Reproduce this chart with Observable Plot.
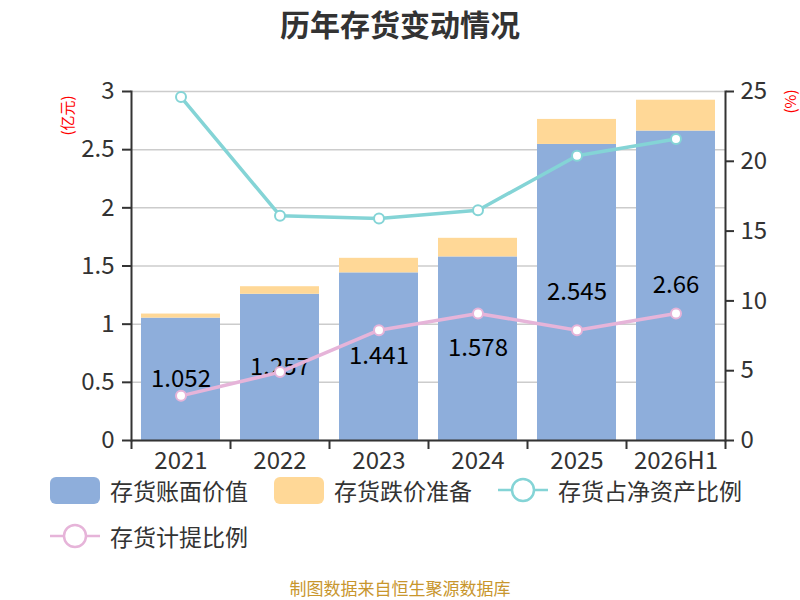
<!DOCTYPE html>
<html><head><meta charset="utf-8">
<script src="https://cdn.jsdelivr.net/npm/d3@7"></script>
<script src="https://cdn.jsdelivr.net/npm/@observablehq/plot@0.6"></script>
<style>
body{margin:0;background:#fff;font-family:"Noto Sans CJK SC","Noto Sans",sans-serif;}
#wrap{position:relative;width:800px;height:600px;overflow:hidden;background:#fff;}
#title{height:46px;line-height:46px;text-align:center;font-size:30px;font-weight:bold;color:#333;}
#legend{position:absolute;top:476px;left:50px;width:720px;display:flex;flex-wrap:wrap;row-gap:18px;}
.item{display:flex;align-items:center;height:28px;margin-right:26px;font-size:23px;line-height:28px;color:#333;}
.sw{width:50px;height:27px;border-radius:6px;margin-right:10px;}
.item svg{margin-right:10px;}
#caption{position:absolute;top:576px;left:0;width:800px;text-align:center;line-height:24px;font-size:17px;color:#c8962d;}
</style></head>
<body>
<div id="wrap">
<div id="title">历年存货变动情况</div>
<div id="chart"></div>
<div id="legend"></div>
<div id="caption">制图数据来自恒生聚源数据库</div>
</div>
<script>
const categories = ["2021","2022","2023","2024","2025","2026H1"];
const bookValue = [1.052,1.257,1.441,1.578,2.545,2.66];
const provision = [0.035,0.065,0.125,0.16,0.215,0.265];
const netAssetRatio = [24.6,16.1,15.9,16.5,20.4,21.6];
const provisionRatio = [3.2,4.9,7.9,9.1,7.9,9.1];
const leftTicks = [0,0.5,1,1.5,2,2.5,3];
const rightTicks = [0,5,10,15,20,25];
const seriesNames = ["存货账面价值","存货跌价准备","存货占净资产比例","存货计提比例"];
const seriesColors = ["#8eaedb","#ffd897","#84d4d6","#e6b4d9"];

const W = 800, H = 432, mL = 131, mR = 75, mT = 45, mB = 38;
const step = (W - mL - mR) / categories.length;
const k = 3 / 25; // right axis (%) to left axis (亿元)

const barRows = [];
categories.forEach((c,i)=>{
  barRows.push({cat:c, series:seriesNames[0], value:bookValue[i]});
  barRows.push({cat:c, series:seriesNames[1], value:provision[i]});
});
const bookRows = categories.map((c,i)=>({cat:c, value:bookValue[i]}));
const lineA = categories.map((c,i)=>({cat:c, v:netAssetRatio[i]}));
const lineB = categories.map((c,i)=>({cat:c, v:provisionRatio[i]}));

const chart = Plot.plot({
  width: W, height: H,
  marginLeft: mL, marginRight: mR, marginTop: mT, marginBottom: mB,
  style: {fontFamily: '"Noto Sans CJK SC","Noto Sans",sans-serif', overflow: "visible"},
  x: {domain: categories, paddingInner: 0.2, paddingOuter: 0.1, axis: null},
  y: {domain: [0, 3], axis: null},
  color: {domain: seriesNames.slice(0,2), range: seriesColors.slice(0,2)},
  marks: [
    Plot.gridY(leftTicks, {stroke: "#cccccc", strokeOpacity: 1, strokeWidth: 1.5}),
    Plot.barY(barRows, {x: "cat", y: "value", fill: "series"}),
    Plot.text(bookRows, {x: "cat", y: d => d.value / 2, text: d => String(d.value), fill: "#000", fontSize: 24}),
    Plot.line(lineA, {x: "cat", y: d => d.v * k, stroke: seriesColors[2], strokeWidth: 3.5}),
    Plot.dot(lineA, {x: "cat", y: d => d.v * k, r: 5, fill: "#fff", stroke: seriesColors[2], strokeWidth: 2}),
    Plot.line(lineB, {x: "cat", y: d => d.v * k, stroke: seriesColors[3], strokeWidth: 3.5}),
    Plot.dot(lineB, {x: "cat", y: d => d.v * k, r: 5, fill: "#fff", stroke: seriesColors[3], strokeWidth: 2}),
    Plot.ruleY([0], {stroke: "#333", strokeWidth: 2}),
    Plot.frame({anchor: "left", stroke: "#333", strokeWidth: 2}),
    Plot.frame({anchor: "right", stroke: "#333", strokeWidth: 2}),
    Plot.axisY(leftTicks, {anchor: "left", tickFormat: v => String(v), tickSize: 9, tickPadding: 8, fontSize: 24, color: "#333", strokeWidth: 2, label: null}),
    Plot.axisY(rightTicks.map(v => v * k), {anchor: "right", tickFormat: v => String(Math.round(v / k)), tickSize: 8, tickPadding: 7, fontSize: 24, color: "#333", strokeWidth: 2, label: null}),
    Plot.axisX({tickSize: 0, tickPadding: 11, fontSize: 24, color: "#333", label: null}),
    Plot.axisX({tickSize: 9, tickFormat: () => "", dx: -step / 2, color: "#333", strokeWidth: 2, label: null}),
    Plot.axisX({ticks: [categories[categories.length - 1]], tickSize: 9, tickFormat: () => "", dx: step / 2, color: "#333", strokeWidth: 2, label: null}),
    Plot.text(["(亿元)"], {frameAnchor: "top-left", rotate: -90, dx: -63, dy: 24, fill: "red", fontSize: 15, textAnchor: "middle", lineAnchor: "middle"}),
    Plot.text(["(%)"], {frameAnchor: "top-right", rotate: -90, dx: 66, dy: 10, fill: "red", fontSize: 15, textAnchor: "middle", lineAnchor: "middle"})
  ]
});
document.getElementById("chart").appendChild(chart);

const legend = document.getElementById("legend");
seriesNames.forEach((name, i) => {
  const item = document.createElement("div");
  item.className = "item";
  if (i < 2) {
    item.innerHTML = `<div class="sw" style="background:${seriesColors[i]}"></div><span>${name}</span>`;
  } else {
    item.innerHTML = `<svg width="50" height="28"><line x1="0" y1="14" x2="50" y2="14" stroke="${seriesColors[i]}" stroke-width="2.5"/><circle cx="25" cy="14" r="11" fill="#fff" stroke="${seriesColors[i]}" stroke-width="2.5"/></svg><span>${name}</span>`;
  }
  legend.appendChild(item);
});
</script>
</body></html>
